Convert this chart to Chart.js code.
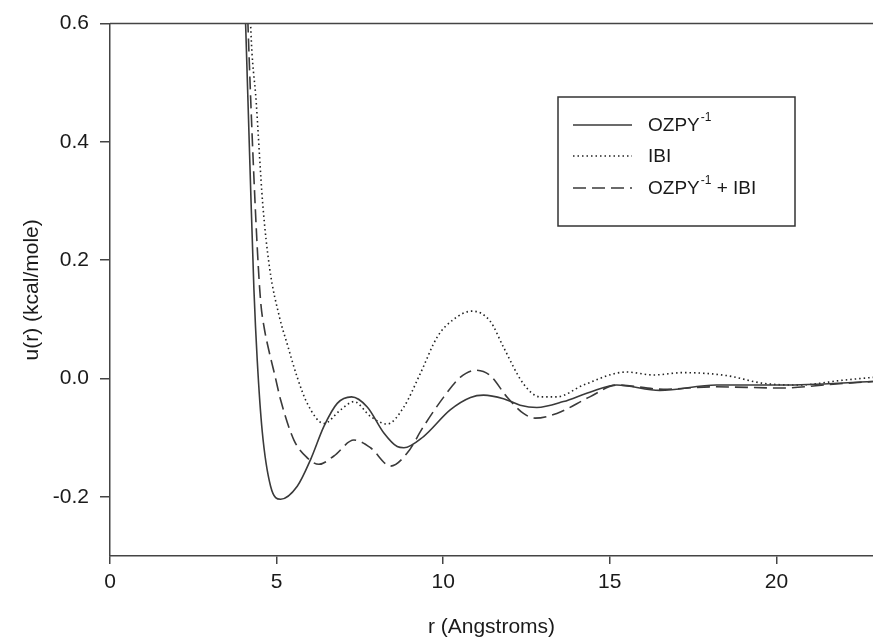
<!DOCTYPE html>
<html>
<head>
<meta charset="utf-8">
<script src="https://cdn.jsdelivr.net/npm/chart.js@4/dist/chart.umd.min.js"></script>
<style>
  html, body { margin: 0; padding: 0; background: #fff; }
  #wrap { width: 873px; height: 642px; position: relative; }
</style>
</head>
<body>
<div id="wrap"><canvas id="c" width="873" height="642"></canvas></div>
<script>
// ---- data ----
const rOzpy = [3.98, 4.07, 4.2, 4.32, 4.42, 4.57, 4.82, 5.12, 5.62, 6.02, 6.42, 6.82, 7.25, 7.72, 8.22, 8.62, 8.82, 9.41, 10.21, 10.82, 11.21, 11.81, 12.31, 12.81, 13.61, 14.4, 15.21, 16.5, 18.2, 20.19, 22.9];
const uOzpy = [0.75, 0.6, 0.36, 0.15, 0.03, -0.09, -0.182, -0.204, -0.182, -0.137, -0.081, -0.042, -0.031, -0.048, -0.092, -0.115, -0.117, -0.098, -0.053, -0.032, -0.028, -0.034, -0.045, -0.049, -0.039, -0.023, -0.011, -0.02, -0.011, -0.011, -0.005];

const rIbi = [4.13, 4.22, 4.39, 4.58, 4.79, 5.09, 5.32, 5.62, 5.92, 6.42, 6.92, 7.32, 7.82, 8.32, 8.82, 9.31, 9.82, 10.31, 10.87, 11.41, 11.81, 12.41, 12.91, 13.41, 14.21, 15.5, 16.3, 17.2, 18.5, 19.6, 20.66, 21.97, 22.9];
const uIbi = [0.8, 0.6, 0.466, 0.298, 0.187, 0.103, 0.058, 0.002, -0.042, -0.076, -0.053, -0.039, -0.064, -0.077, -0.048, 0.008, 0.07, 0.1, 0.114, 0.097, 0.053, -0.009, -0.031, -0.031, -0.011, 0.011, 0.006, 0.01, 0.005, -0.008, -0.011, -0.003, 0.002];

const rBoth = [4.03, 4.14, 4.3, 4.45, 4.53, 4.63, 4.77, 4.95, 5.12, 5.52, 5.92, 6.27, 6.72, 7.32, 7.82, 8.42, 8.92, 9.41, 10.02, 10.51, 10.97, 11.41, 11.91, 12.41, 12.76, 13.41, 14.4, 15.21, 16.6, 18.1, 20.2, 21.6, 22.9];
const uBoth = [0.8, 0.6, 0.365, 0.19, 0.125, 0.085, 0.047, 0.005, -0.036, -0.104, -0.134, -0.145, -0.131, -0.104, -0.117, -0.148, -0.126, -0.081, -0.031, 0.002, 0.014, 0.005, -0.031, -0.059, -0.067, -0.059, -0.031, -0.011, -0.018, -0.014, -0.016, -0.01, -0.005];

const seriesLabels = ['OZPY-1', 'IBI', 'OZPY-1 + IBI'];
// legend text split into [text, isSuperscript]
const legendParts = [
  [['OZPY', 0], ['-1', 1]],
  [['IBI', 0]],
  [['OZPY', 0], ['-1', 1], [' + IBI', 0]]
];
const xTicks = [0, 5, 10, 15, 20];
const yTicks = [-0.2, 0.0, 0.2, 0.4, 0.6];
const xTitle = 'r (Angstroms)';
const yTitle = 'u(r) (kcal/mole)';

// ---- chart ----
const INK = '#3a3a3a';
const FONT = '"Liberation Sans", Arial, Helvetica, sans-serif';
const toPts = (rs, us) => rs.map((r, i) => ({ x: r, y: us[i] }));

const legendPlugin = {
  id: 'boxLegend',
  afterDraw(chart) {
    const ctx = chart.ctx;
    ctx.save();
    // top border of the plot frame
    const a = chart.chartArea;
    ctx.strokeStyle = '#444';
    ctx.lineWidth = 1.5;
    ctx.beginPath();
    ctx.moveTo(a.left, a.top);
    ctx.lineTo(a.right, a.top);
    ctx.stroke();

    // legend box
    const bx = 558, by = 97, bw = 237, bh = 129;
    ctx.strokeStyle = '#333';
    ctx.lineWidth = 1.5;
    ctx.strokeRect(bx, by, bw, bh);
    const rows = [125, 156, 188];
    chart.data.datasets.forEach((ds, i) => {
      const y = rows[i];
      ctx.strokeStyle = ds.borderColor;
      ctx.lineWidth = ds.borderWidth;
      ctx.setLineDash(ds.borderDash || []);
      ctx.beginPath();
      ctx.moveTo(573, y);
      ctx.lineTo(632, y);
      ctx.stroke();
      ctx.setLineDash([]);
      let x = 648;
      ctx.fillStyle = '#1a1a1a';
      ctx.textBaseline = 'middle';
      ctx.textAlign = 'left';
      legendParts[i].forEach(([t, sup]) => {
        if (sup) {
          ctx.font = '12px ' + FONT;
          ctx.fillText(t, x + 1, y - 7);
          x += ctx.measureText(t).width + 1;
        } else {
          ctx.font = '19px ' + FONT;
          ctx.fillText(t, x, y + 1);
          x += ctx.measureText(t).width;
        }
      });
    });
    ctx.restore();
  }
};

new Chart(document.getElementById('c'), {
  type: 'line',
  data: {
    datasets: [
      { label: seriesLabels[0], data: toPts(rOzpy, uOzpy), borderColor: INK, borderWidth: 1.6, borderDash: [], pointRadius: 0, cubicInterpolationMode: 'monotone', fill: false },
      { label: seriesLabels[1], data: toPts(rIbi, uIbi), borderColor: '#222', borderWidth: 1.6, borderDash: [1.5, 3], pointRadius: 0, cubicInterpolationMode: 'monotone', fill: false },
      { label: seriesLabels[2], data: toPts(rBoth, uBoth), borderColor: INK, borderWidth: 1.6, borderDash: [13, 6], pointRadius: 0, cubicInterpolationMode: 'monotone', fill: false }
    ]
  },
  options: {
    responsive: false,
    animation: false,
    events: [],
    layout: { padding: { top: 20, right: 0, left: 0, bottom: 0 } },
    plugins: { legend: { display: false }, tooltip: { enabled: false } },
    scales: {
      x: {
        type: 'linear', min: 0, max: 22.9,
        afterBuildTicks: s => { s.ticks = xTicks.map(v => ({ value: v })); },
        afterFit: s => { s.height = 86; },
        grid: { display: true, drawOnChartArea: false, drawTicks: true, tickLength: 8, color: '#444', lineWidth: 1.5 },
        border: { display: true, color: '#444', width: 1.5 },
        ticks: { color: '#1a1a1a', font: { family: FONT, size: 21 }, padding: 6, maxRotation: 0, callback: v => String(v) },
        title: { display: true, text: xTitle, color: '#1a1a1a', font: { family: FONT, size: 21 }, padding: { top: 0, bottom: 2 } }
      },
      y: {
        type: 'linear', min: -0.3, max: 0.6,
        afterBuildTicks: s => { s.ticks = yTicks.map(v => ({ value: v })); },
        afterFit: s => { s.width = 110; },
        grid: { display: true, drawOnChartArea: false, drawTicks: true, tickLength: 10, color: '#444', lineWidth: 1.5 },
        border: { display: true, color: '#444', width: 1.5 },
        ticks: { color: '#1a1a1a', font: { family: FONT, size: 21 }, padding: 11, callback: v => Number(v).toFixed(1) },
        title: { display: true, text: yTitle, color: '#1a1a1a', font: { family: FONT, size: 21 }, padding: { top: 20, bottom: 0 } }
      }
    }
  },
  plugins: [legendPlugin]
});
</script>
</body>
</html>
